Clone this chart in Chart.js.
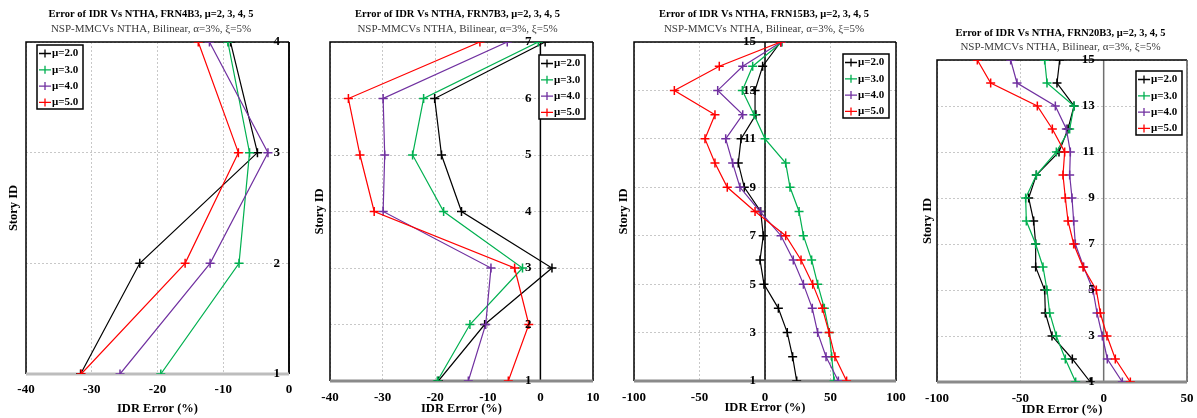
<!DOCTYPE html>
<html>
<head>
<meta charset="utf-8">
<title>IDR error vs NTHA</title>
<script src="https://cdn.jsdelivr.net/npm/chart.js@4.4.1/dist/chart.umd.min.js"></script>
<style>
  html, body { margin: 0; padding: 0; background: #fff; overflow: hidden; }
  body { position: relative; width: 1197px; height: 418px; }
  canvas { position: absolute; top: 0; }
</style>
</head>
<body>
<canvas id="chart-frn4" width="302" height="418" style="left:0px"></canvas>
<canvas id="chart-frn7" width="315" height="418" style="left:300px"></canvas>
<canvas id="chart-frn15" width="328" height="418" style="left:600px"></canvas>
<canvas id="chart-frn20" width="321" height="418" style="left:900px"></canvas>
<script>
// Story-wise IDR error of NSP-MMC against NTHA, one panel per frame

const muLabels = ['μ=2.0', 'μ=3.0', 'μ=4.0', 'μ=5.0'];
const muColors = ['#000000', '#00B050', '#7030A0', '#FF0000'];

// FRN4B3
const frn4Stories = [1, 2, 3, 4];
const frn4Mu2 = [-31.7, -22.7, -4.8, -8.9];
const frn4Mu3 = [-19.5, -7.6, -6.0, -9.3];
const frn4Mu4 = [-25.7, -12.0, -3.2, -12.1];
const frn4Mu5 = [-31.6, -15.8, -7.7, -13.8];

// FRN7B3
const frn7Stories = [1, 2, 3, 4, 5, 6, 7];
const frn7Mu2 = [-19.4, -10.6, 2.2, -15.0, -18.8, -20.1, 0.9];
const frn7Mu3 = [-19.6, -13.4, -3.4, -18.4, -24.3, -22.2, -0.4];
const frn7Mu4 = [-13.7, -10.4, -9.4, -29.9, -29.6, -29.9, -6.3];
const frn7Mu5 = [-6.1, -2.2, -4.9, -31.6, -34.3, -36.5, -11.5];

// FRN15B3
const frn15Stories = [1, 2, 3, 4, 5, 6, 7, 8, 9, 10, 11, 12, 13, 14, 15];
const frn15Mu2 = [24.2, 21.1, 17.0, 10.2, -0.8, -3.8, -1.3, -3.3, -15.8, -20.4, -18.3, -6.9, -7.6, -1.8, 12.0];
const frn15Mu3 = [52.7, 50.9, 49.1, 45.3, 40.2, 35.6, 29.3, 26.0, 19.1, 15.8, 0.0, -8.4, -17.3, -9.4, 13.0];
const frn15Mu4 = [56.0, 46.6, 40.2, 36.1, 29.3, 21.6, 12.2, -3.8, -19.1, -24.7, -30.0, -17.0, -36.1, -17.0, 12.5];
const frn15Mu5 = [62.3, 53.4, 48.9, 43.8, 36.4, 27.5, 15.8, -7.6, -28.8, -38.2, -45.8, -38.2, -69.2, -34.9, 12.0];

// FRN20B3 (stories 1-15 plotted)
const frn20Stories = [1, 2, 3, 4, 5, 6, 7, 8, 9, 10, 11, 12, 13, 14, 15];
const frn20Mu2 = [-8.0, -18.8, -31.0, -35.0, -35.4, -40.8, -40.8, -42.0, -45.0, -40.4, -26.8, -21.4, -17.8, -28.0, -26.4];
const frn20Mu3 = [-16.8, -23.0, -28.4, -32.4, -34.0, -36.4, -40.8, -46.4, -46.8, -40.4, -28.4, -20.4, -17.8, -34.0, -35.4];
const frn20Mu4 = [11.2, 2.2, -0.8, -4.0, -6.4, -12.0, -17.0, -18.0, -19.0, -20.4, -20.0, -22.4, -29.0, -52.0, -55.8];
const frn20Mu5 = [16.0, 7.0, 2.0, -2.0, -4.4, -12.4, -18.0, -21.4, -23.0, -24.4, -23.4, -30.8, -39.8, -67.8, -75.8];

const serif = "'Liberation Serif', 'Times New Roman', serif";
const gridGray = '#c8c8c8';

// Plot frame: black left/top/right edges, heavy grey base, zero reference line
const framePlugin = {
  id: 'frame',
  beforeDatasetsDraw(chart, args, opts) {
    const { ctx, chartArea: { left, right, top, bottom } } = chart;
    const x0 = chart.scales.x.getPixelForValue(0);
    ctx.save();
    ctx.strokeStyle = opts.zeroColor;
    ctx.lineWidth = 1.5;
    ctx.beginPath();
    ctx.moveTo(x0, top);
    ctx.lineTo(x0, bottom);
    ctx.stroke();

    ctx.strokeStyle = '#000';
    ctx.lineWidth = 1.5;
    ctx.beginPath();
    ctx.moveTo(left, bottom);
    ctx.lineTo(left, top);
    ctx.lineTo(right, top);
    ctx.stroke();
    ctx.strokeStyle = opts.rightColor;
    ctx.beginPath();
    ctx.moveTo(right, top);
    ctx.lineTo(right, bottom);
    ctx.stroke();

    ctx.strokeStyle = opts.baseColor;
    ctx.lineWidth = 3;
    ctx.beginPath();
    ctx.moveTo(left, bottom);
    ctx.lineTo(right, bottom);
    ctx.stroke();
    ctx.restore();
  }
};

// Story numbers sit just left of the zero line
const storyLabels = {
  id: 'storyLabels',
  afterDatasetsDraw(chart, args, opts) {
    const { ctx } = chart;
    const ys = chart.scales.y;
    const x = chart.scales.x.getPixelForValue(0) - opts.gap;
    ctx.save();
    ctx.font = `bold 13px ${serif}`;
    ctx.fillStyle = '#000';
    ctx.textAlign = 'right';
    ctx.textBaseline = 'middle';
    ys.ticks.forEach(t => ctx.fillText(String(t.value), x, ys.getPixelForValue(t.value)));
    ctx.restore();
  }
};

// Boxed legend with line + cross samples
const boxLegend = {
  id: 'boxLegend',
  afterDatasetsDraw(chart, args, opts) {
    const { ctx } = chart;
    const sets = chart.data.datasets;
    const w = 46, rowH = 16.3, h = 64;
    ctx.save();
    ctx.fillStyle = '#fff';
    ctx.fillRect(opts.left, opts.top, w, h);
    ctx.strokeStyle = '#000';
    ctx.lineWidth = 1.5;
    ctx.strokeRect(opts.left, opts.top, w, h);
    ctx.font = `bold 11px ${serif}`;
    ctx.textBaseline = 'middle';
    sets.forEach((ds, i) => {
      const y = opts.top + 8.5 + i * rowH;
      const x = opts.left;
      ctx.strokeStyle = ds.borderColor;
      ctx.lineWidth = 1.3;
      ctx.beginPath();
      ctx.moveTo(x + 2, y);
      ctx.lineTo(x + 14, y);
      ctx.moveTo(x + 8, y - 4);
      ctx.lineTo(x + 8, y + 4);
      ctx.stroke();
      ctx.fillStyle = '#000';
      ctx.fillText(ds.label, x + 15, y);
    });
    ctx.restore();
  }
};

function makeDatasets(stories, series) {
  return series.map((vals, i) => ({
    label: muLabels[i],
    data: stories.map((s, k) => ({ x: vals[k], y: s })),
    borderColor: muColors[i],
    backgroundColor: muColors[i],
    borderWidth: 1.2,
    pointStyle: 'cross',
    pointRadius: 4.5,
    pointBorderWidth: 1.5,
    showLine: true,
    tension: 0,
    order: series.length - 1 - i
  }));
}

function buildPanel(canvasId, p) {
  return new Chart(document.getElementById(canvasId), {
    type: 'scatter',
    data: { datasets: makeDatasets(p.stories, p.series) },
    plugins: [framePlugin, storyLabels, boxLegend],
    options: {
      responsive: false,
      animation: false,
      events: [],
      layout: { padding: 0 },
      plugins: {
        legend: { display: false },
        tooltip: { enabled: false },
        title: {
          display: true,
          text: p.title,
          color: '#000',
          font: { family: serif, size: 10.5, weight: 'bold' },
          padding: { top: p.titleTop, bottom: p.titleGap }
        },
        subtitle: {
          display: true,
          text: 'NSP-MMCVs NTHA, Bilinear, α=3%, ξ=5%',
          color: '#3a3a3a',
          font: { family: serif, size: 11 },
          padding: { top: 0, bottom: 6.4 }
        },
        frame: { zeroColor: p.zeroColor, baseColor: p.baseColor, rightColor: p.rightColor },
        storyLabels: { gap: 9 },
        boxLegend: p.legend
      },
      scales: {
        x: {
          type: 'linear',
          min: p.xMin,
          max: p.xMax,
          afterFit: s => { s.height = p.xHeight; },
          ticks: {
            stepSize: p.xStep,
            autoSkip: false,
            maxRotation: 0,
            padding: p.xTickPad,
            color: '#000',
            font: { family: serif, size: 13, weight: 'bold' }
          },
          grid: { color: gridGray, lineWidth: 1, drawTicks: false, borderDash: [2, 2] },
          border: { display: false, dash: [2, 2] },
          title: {
            display: true,
            text: 'IDR Error (%)',
            color: '#000',
            font: { family: serif, size: 12.5, weight: 'bold' },
            padding: { top: 0, bottom: p.xTitlePad }
          }
        },
        y: {
          type: 'linear',
          position: 'left',
          min: p.stories[0],
          max: p.stories[p.stories.length - 1],
          afterFit: s => { s.width = p.leftGap; },
          ticks: { display: false, stepSize: p.yStep },
          grid: { color: gridGray, lineWidth: 1, drawTicks: false, borderDash: [2, 2] },
          border: { display: false, dash: [2, 2] },
          title: {
            display: true,
            text: 'Story ID',
            color: '#000',
            font: { family: serif, size: 12.5, weight: 'bold' },
            padding: { top: p.yTitlePad, bottom: 0 }
          }
        },
        yr: {
          type: 'linear',
          axis: 'y',
          position: 'right',
          display: true,
          afterFit: s => { s.width = p.rightGap; },
          ticks: { display: false },
          grid: { display: false, drawTicks: false },
          border: { display: false }
        }
      }
    }
  });
}

buildPanel('chart-frn4', {
  title: 'Error of IDR Vs NTHA, FRN4B3, μ=2, 3, 4, 5',
  stories: frn4Stories,
  series: [frn4Mu2, frn4Mu3, frn4Mu4, frn4Mu5],
  xMin: -40, xMax: 0, xStep: 10, yStep: 1,
  titleTop: 7.7, titleGap: 2.1,
  leftGap: 26, rightGap: 13, xHeight: 44,
  xTickPad: 7.5, xTitlePad: 1.5, yTitlePad: 6.5,
  zeroColor: '#000', baseColor: '#bdbdbd', rightColor: '#000',
  legend: { left: 37, top: 45 }
});

buildPanel('chart-frn7', {
  title: 'Error of IDR Vs NTHA, FRN7B3, μ=2, 3, 4, 5',
  stories: frn7Stories,
  series: [frn7Mu2, frn7Mu3, frn7Mu4, frn7Mu5],
  xMin: -40, xMax: 10, xStep: 10, yStep: 1,
  titleTop: 7.7, titleGap: 2.1,
  leftGap: 30, rightGap: 22, xHeight: 37,
  xTickPad: 8.5, xTitlePad: 2.2, yTitlePad: 11.8,
  zeroColor: '#000', baseColor: '#8a8a8a', rightColor: '#000',
  legend: { left: 239, top: 55 }
});

buildPanel('chart-frn15', {
  title: 'Error of IDR Vs NTHA, FRN15B3, μ=2, 3, 4, 5',
  stories: frn15Stories,
  series: [frn15Mu2, frn15Mu3, frn15Mu4, frn15Mu5],
  xMin: -100, xMax: 100, xStep: 50, yStep: 2,
  titleTop: 7.7, titleGap: 2.1,
  leftGap: 34, rightGap: 32, xHeight: 37,
  xTickPad: 8.5, xTitlePad: 3.2, yTitlePad: 15.8,
  zeroColor: '#000', baseColor: '#8a8a8a', rightColor: '#000',
  legend: { left: 243, top: 54 }
});

buildPanel('chart-frn20', {
  title: 'Error of IDR Vs NTHA, FRN20B3, μ=2, 3, 4, 5',
  stories: frn20Stories,
  series: [frn20Mu2, frn20Mu3, frn20Mu4, frn20Mu5],
  xMin: -100, xMax: 50, xStep: 50, yStep: 2,
  titleTop: 26.7, titleGap: 1.1,
  leftGap: 37, rightGap: 34, xHeight: 36,
  xTickPad: 8.5, xTitlePad: 1.2, yTitlePad: 19.8,
  zeroColor: '#707070', baseColor: '#8a8a8a', rightColor: '#555',
  legend: { left: 236, top: 71 }
});
</script>
</body>
</html>
